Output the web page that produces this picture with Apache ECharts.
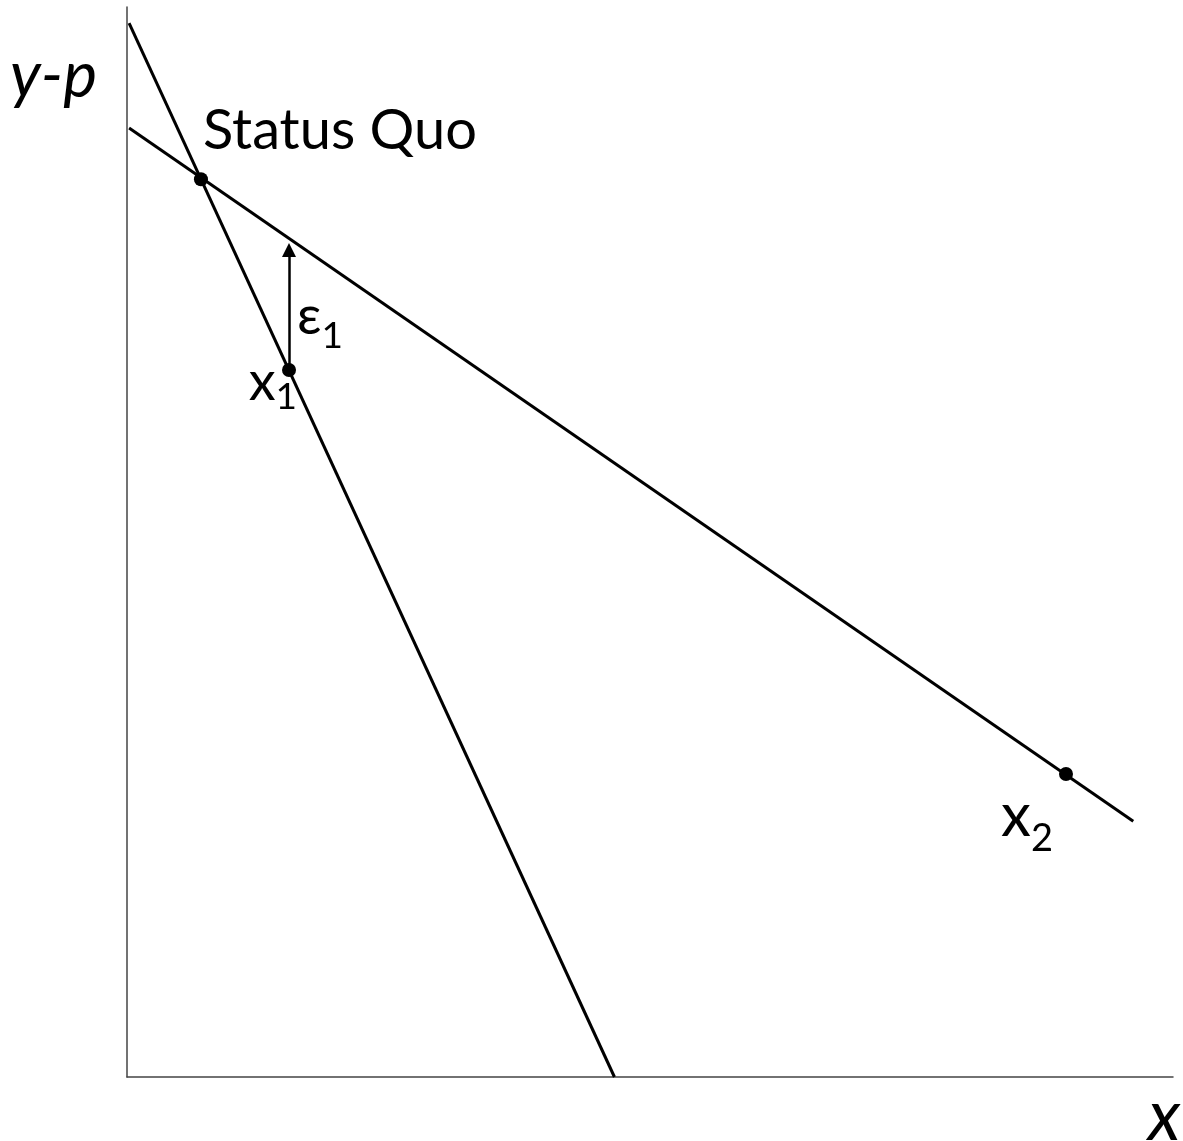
<!DOCTYPE html>
<html>
<head>
<meta charset="utf-8">
<script src="https://cdn.jsdelivr.net/npm/echarts@6/dist/echarts.min.js"></script>
<style>
  html, body { margin: 0; padding: 0; background: #fff; }
  #chart { width: 1183px; height: 1141px; }
</style>
</head>
<body>
<div id="chart"></div>
<script>
// two budget lines in (x, y-p) space
const steepLine = [[0.02, 9.85], [4.66, 0]];
const shallowLine = [[0.02, 8.87], [9.62, 2.39]];
// marked points
const pointNames = ['Status Quo', 'x1', 'x2'];
const pointValues = [[0.707, 8.39], [1.549, 6.607], [8.977, 2.832]];
// epsilon_1 arrow from x1 up to the shallow line
const arrowFrom = [1.549, 6.607];
const arrowTo = [1.549, 7.73];
const epsLabelAt = [1.549, 7.22];

const FONT = 'Lato';

const chart = echarts.init(document.getElementById('chart'));

// main letter + subscript; padding under the main letter lifts it so the
// subscript sits lower
function rich(big, small, drop) {
  return {
    m: { fontSize: big, fontFamily: FONT, color: '#000', textBorderWidth: 0,
         verticalAlign: 'bottom', lineHeight: big * 1.1, padding: [0, 0, drop, 0] },
    s: { fontSize: small, fontFamily: FONT, color: '#000', textBorderWidth: 0,
         verticalAlign: 'bottom', lineHeight: small }
  };
}

const labelStyles = {
  'Status Quo': {
    formatter: 'Status Quo', fontSize: 56, align: 'left', offset: [2, -48], rich: {}
  },
  'x1': {
    formatter: '{m|x}{s|1}', align: 'right', offset: [8, 16], rich: rich(54, 37, 6)
  },
  'x2': {
    formatter: '{m|x}{s|2}', align: 'right', offset: [-13, 51], rich: rich(60, 38, 11)
  }
};

const option = {
  backgroundColor: '#fff',
  animation: false,
  grid: { left: 127, right: 10, top: 7, bottom: 64, outerBoundsMode: 'none' },
  xAxis: {
    type: 'value', min: 0, max: 10,
    axisLine: { lineStyle: { color: '#444', width: 1.5 } },
    axisTick: { show: false }, axisLabel: { show: false }, splitLine: { show: false }
  },
  yAxis: {
    type: 'value', min: 0, max: 10,
    axisLine: { show: true, lineStyle: { color: '#444', width: 1.5 } },
    axisTick: { show: false }, axisLabel: { show: false }, splitLine: { show: false }
  },
  graphic: [
    { type: 'text', left: 10, top: 44,
      style: { text: 'y-p', font: 'italic 64px ' + FONT, fill: '#000' } },
    { type: 'text', left: 1148, top: 1082,
      style: { text: 'x', font: 'italic 70px ' + FONT, fill: '#000' } }
  ],
  series: [
    {
      type: 'line', data: steepLine, symbol: 'none', silent: true,
      lineStyle: { color: '#000', width: 3 }
    },
    {
      type: 'line', data: shallowLine, symbol: 'none', silent: true,
      lineStyle: { color: '#000', width: 3 }
    },
    {
      type: 'lines', coordinateSystem: 'cartesian2d', silent: true,
      symbol: ['none', 'triangle'], symbolSize: [10, 14],
      lineStyle: { color: '#000', width: 2.5, opacity: 1 },
      data: [{ coords: [arrowFrom, arrowTo] }]
    },
    {
      type: 'scatter', symbolSize: 1, silent: true,
      itemStyle: { color: 'rgba(0,0,0,0)', opacity: 1 },
      data: [epsLabelAt],
      label: {
        show: true, position: 'inside', align: 'left', verticalAlign: 'middle',
        offset: [8, 20], formatter: '{m|ε}{s|1}', color: '#000',
        textBorderWidth: 0, rich: rich(54, 37, 11)
      }
    },
    {
      type: 'scatter', symbolSize: 14, silent: true,
      itemStyle: { color: '#000', opacity: 1 },
      data: pointValues.map((v, i) => {
        const ls = labelStyles[pointNames[i]];
        return {
          name: pointNames[i],
          value: v,
          label: {
            show: true, position: 'inside', verticalAlign: 'middle',
            align: ls.align, offset: ls.offset, formatter: ls.formatter,
            fontSize: ls.fontSize || 54, fontFamily: FONT, color: '#000',
            textBorderWidth: 0, rich: ls.rich
          }
        };
      })
    }
  ]
};

chart.setOption(option);
</script>
</body>
</html>
